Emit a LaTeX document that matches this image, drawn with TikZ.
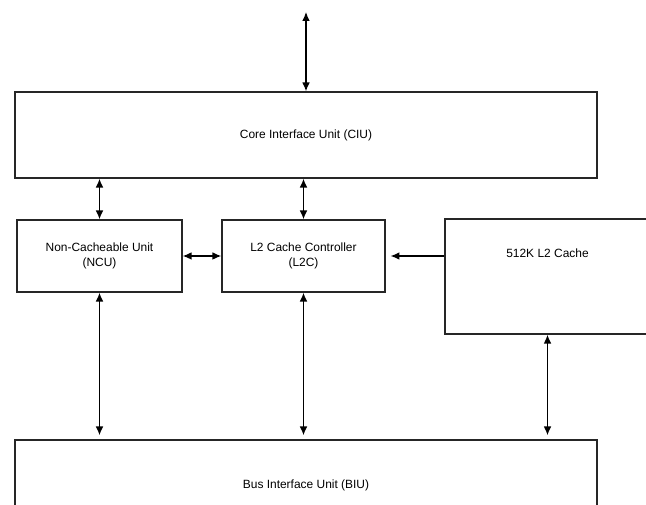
\documentclass[tikz,border=0pt]{standalone}
\usepackage{fontspec}
\setmainfont{Liberation Sans}
\usetikzlibrary{arrows.meta,positioning}
\tikzset{
unit/.style={draw=black!85,line width=1pt,align=center,inner sep=0pt,font=\fontsize{8.5}{10.5}\selectfont},
link/.style={{Latex[length=2.2mm,width=1.9mm]}-{Latex[length=2.2mm,width=1.9mm]},line width=.9pt},
arrow/.style={-{Latex[length=2.2mm,width=1.9mm]},line width=.9pt}
}
\begin{document}
\begin{tikzpicture}[x=.025cm,y=-.025cm]
\useasboundingbox (0,0) rectangle (646,505);
\node[unit,minimum width=14.55cm,minimum height=2.15cm] (ciu) at (306,135) {Core Interface Unit (CIU)};
\node[unit,minimum width=4.125cm,minimum height=1.8cm] (ncu) at (99.5,256) {Non-Cacheable Unit\\(NCU)};
\node[unit,minimum width=4.075cm,minimum height=1.8cm] (l2c) at (303.5,256) {L2 Cache Controller\\(L2C)};
\node[unit,minimum width=5.125cm,minimum height=2.875cm] (cache) at (547.5,276.5) {};
\node[font=\fontsize{8.5}{10.5}\selectfont] (cachetext) at ([yshift=-.875cm]cache.north) {512K L2 Cache};
\node[unit,minimum width=14.55cm,minimum height=2.25cm] (biu) at (306,485) {Bus Interface Unit (BIU)};
\coordinate (core) at (306,12);
\draw[link] (core)--(ciu.north);
\draw[link] (ncu.north)--(ncu.north |- ciu.south);
\draw[link] (l2c.north)--(l2c.north |- ciu.south);
\draw[link] (ncu.east)--(l2c.west);
\draw[arrow,shorten >=.12cm] (cache.west |- l2c.east)--(l2c.east);
\draw[link,shorten >=.1cm] (ncu.south)--(ncu.south |- biu.north);
\draw[link,shorten >=.1cm] (l2c.south)--(l2c.south |- biu.north);
\draw[link,shorten >=.1cm] (cache.south)--(cache.south |- biu.north);
\end{tikzpicture}
\end{document}
